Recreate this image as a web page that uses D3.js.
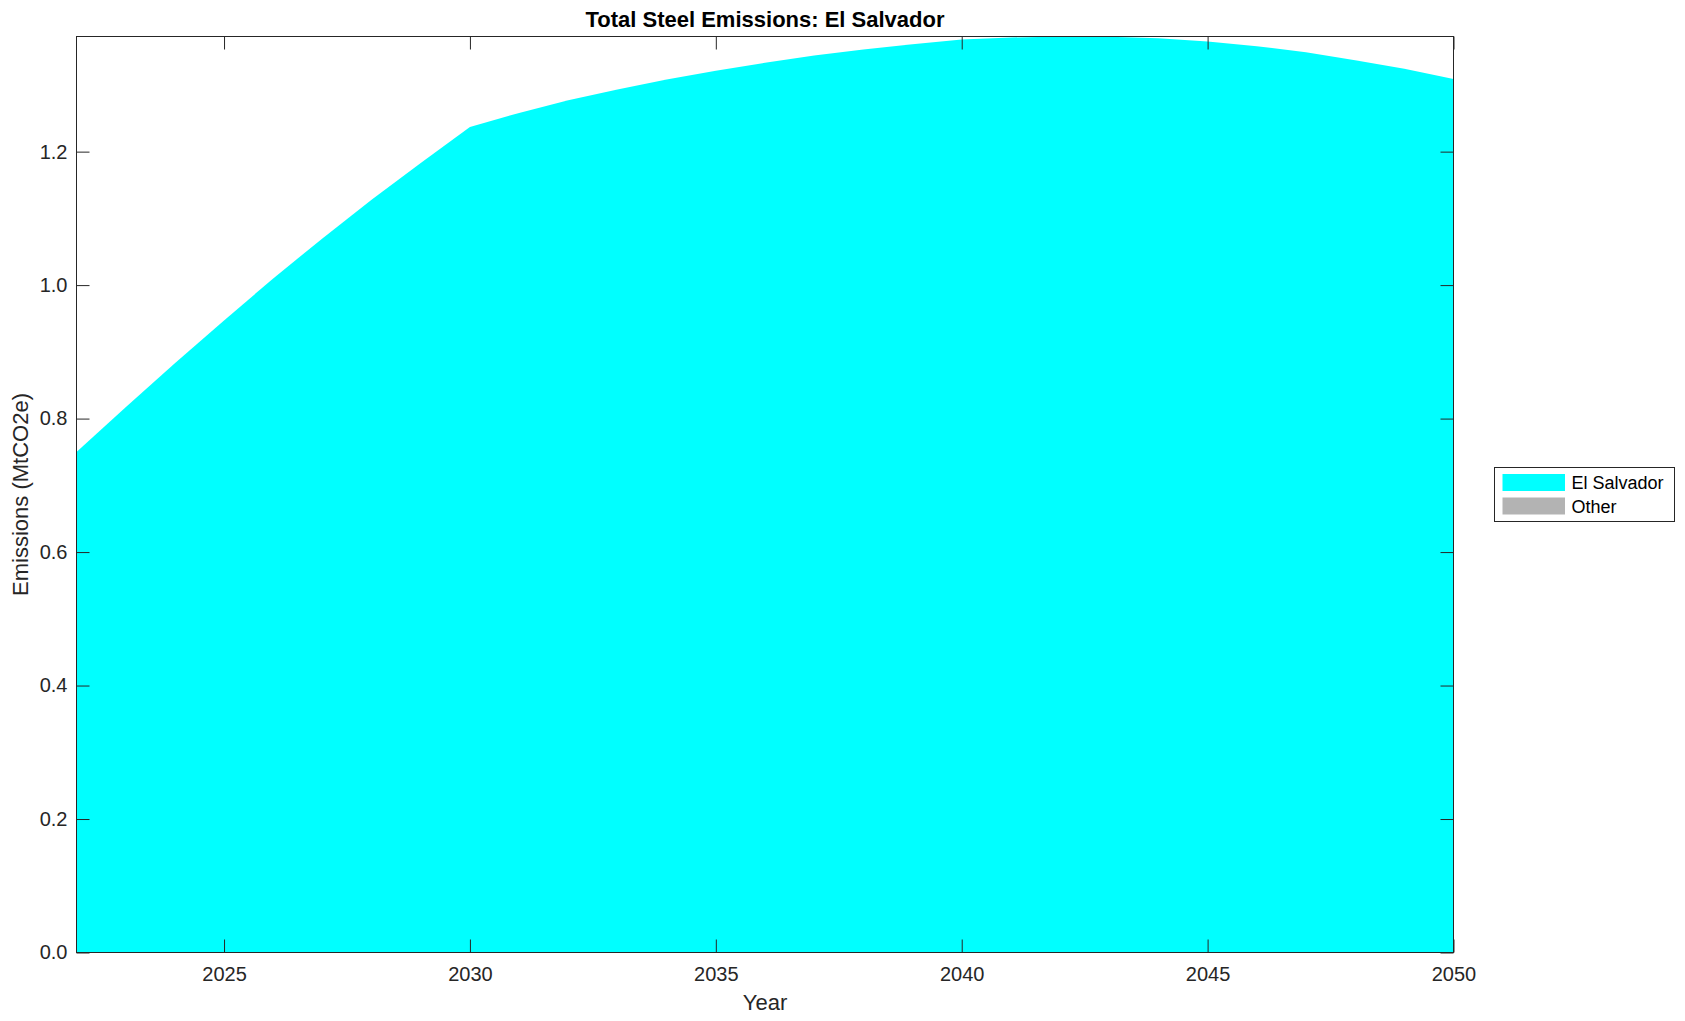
<!DOCTYPE html>
<html>
<head>
<meta charset="utf-8">
<script src="https://cdn.jsdelivr.net/npm/d3@7"></script>
<style>
  body { margin: 0; background: #fff; }
  svg { display: block; font-family: "Liberation Sans", Arial, Helvetica, sans-serif; }
</style>
</head>
<body>
<div id="chart"></div>
<script>
const years = d3.range(2022, 2051)
const elSalvador = [0.750, 0.817, 0.883, 0.947, 1.010, 1.070, 1.128, 1.183, 1.237,
  1.258, 1.277, 1.293, 1.308, 1.321, 1.333, 1.344, 1.353, 1.361, 1.368,
  1.371, 1.3725, 1.372, 1.370, 1.365, 1.358, 1.349, 1.337, 1.324, 1.309]
const other = years.map(() => 0)
const seriesNames = ['El Salvador', 'Other']
const seriesColors = ['#00ffff', '#b3b3b3']
const xTicks = [2025, 2030, 2035, 2040, 2045, 2050]
const yTicks = [0, 0.2, 0.4, 0.6, 0.8, 1.0, 1.2]

const width = 1685
const height = 1021
const margin = {left: 76.5, right: 1685 - 1453.5, top: 36.5, bottom: 1021 - 952.5}
const ink = '#262626'
const tickLen = 13

const svg = d3.select('#chart').append('svg')
  .attr('width', width)
  .attr('height', height)

const table = years.map((yr, i) => ({year: yr, 'El Salvador': elSalvador[i], 'Other': other[i]}))
const stacked = d3.stack().keys(seriesNames)(table)

const x = d3.scaleLinear()
  .domain([2022, 2050])
  .range([margin.left, width - margin.right])

const y = d3.scaleLinear()
  .domain([0, d3.max(stacked[stacked.length - 1], d => d[1])])
  .range([height - margin.bottom, margin.top])

const area = d3.area()
  .x(d => x(d.data.year))
  .y0(d => y(d[0]))
  .y1(d => y(d[1]))

svg.append('g')
  .selectAll('path').data(stacked)
  .enter().append('path')
    .attr('fill', (d, i) => seriesColors[i])
    .attr('d', area)

// axes, ticks pointing inward on all four sides
function styleAxis(g){
  g.select('.domain').remove()
  g.selectAll('line').attr('stroke', ink)
  g.selectAll('text').attr('fill', ink).attr('font-size', 20)
}

svg.append('g')
  .attr('transform', 'translate(0,' + (height - margin.bottom) + ')')
  .call(d3.axisBottom(x).tickValues(xTicks).tickFormat(d3.format('d')).tickSizeInner(-tickLen).tickSizeOuter(0).tickPadding(14))
  .call(styleAxis)

svg.append('g')
  .attr('transform', 'translate(0,' + margin.top + ')')
  .call(d3.axisTop(x).tickValues(xTicks).tickFormat('').tickSizeInner(-tickLen).tickSizeOuter(0))
  .call(styleAxis)

svg.append('g')
  .attr('transform', 'translate(' + margin.left + ',0)')
  .call(d3.axisLeft(y).tickValues(yTicks).tickFormat(d3.format('.1f')).tickSizeInner(-tickLen).tickSizeOuter(0).tickPadding(9))
  .call(styleAxis)

svg.append('g')
  .attr('transform', 'translate(' + (width - margin.right) + ',0)')
  .call(d3.axisRight(y).tickValues(yTicks).tickFormat('').tickSizeInner(-tickLen).tickSizeOuter(0))
  .call(styleAxis)

svg.append('rect')
  .attr('x', margin.left)
  .attr('y', margin.top)
  .attr('width', width - margin.right - margin.left)
  .attr('height', height - margin.bottom - margin.top)
  .attr('fill', 'none')
  .attr('stroke', ink)
  .attr('stroke-width', 1)

// labels
const plotMidX = (margin.left + width - margin.right) / 2
const plotMidY = (margin.top + height - margin.bottom) / 2

svg.append('text')
  .text('Total Steel Emissions: El Salvador')
  .attr('x', plotMidX)
  .attr('y', 27)
  .attr('text-anchor', 'middle')
  .attr('font-size', 22)
  .attr('font-weight', 'bold')
  .attr('fill', '#000')

svg.append('text')
  .text('Year')
  .attr('x', plotMidX)
  .attr('y', 1010)
  .attr('text-anchor', 'middle')
  .attr('font-size', 22)
  .attr('fill', ink)

svg.append('text')
  .text('Emissions (MtCO2e)')
  .attr('transform', 'translate(28,' + plotMidY + ') rotate(-90)')
  .attr('text-anchor', 'middle')
  .attr('font-size', 22)
  .attr('fill', ink)

// legend
const legend = svg.append('g').attr('transform', 'translate(1494.5,467.5)')
legend.append('rect')
  .attr('width', 180)
  .attr('height', 54)
  .attr('fill', '#fff')
  .attr('stroke', ink)
  .attr('stroke-width', 1)

const items = legend.selectAll('g.item').data(seriesNames)
  .enter().append('g')
    .attr('class', 'item')
    .attr('transform', (d, i) => 'translate(8,' + (6.5 + i * 23.5) + ')')

items.append('rect')
  .attr('width', 62.5)
  .attr('height', 17)
  .attr('fill', (d, i) => seriesColors[i])

items.append('text')
  .text(d => d)
  .attr('x', 69)
  .attr('y', 9)
  .attr('dy', '0.35em')
  .attr('font-size', 18)
  .attr('fill', '#000')
</script>
</body>
</html>
